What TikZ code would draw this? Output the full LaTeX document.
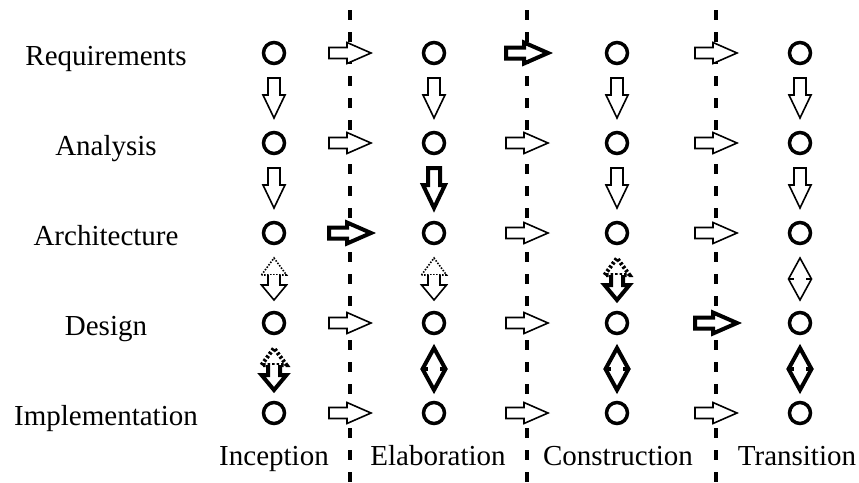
\documentclass[tikz,border=0pt]{standalone}
\usepackage{fontspec}
\setmainfont{Liberation Serif}
\usetikzlibrary{calc}

\tikzset{
  phase/.style={line width=3.5pt, dash pattern=on 10pt off 12pt},
  act/.style={circle, draw, line width=3.5pt, minimum size=21pt, inner sep=0pt},
  lbl/.style={font=\fontsize{29}{34}\selectfont, anchor=base},
  thin/.style={line width=1.6pt},
  bold/.style={line width=4pt},
  dots/.style={dash pattern=on 1.5pt off 1.5pt},
  bolddots/.style={dash pattern=on 2.5pt off 2pt},
  % block arrow pointing right
  rarr/.pic={\draw[fill=white, miter limit=20]
    (-21,-5.5) -- (-3,-5.5) -- (-3,-10.5) -- (21,0) -- (-3,10.5) -- (-3,5.5) -- (-21,5.5) -- cycle;},
  % block arrow pointing down
  darr/.pic={\draw[fill=white, miter limit=20]
    (-6,-20) -- (-6,-3) -- (-11,-3) -- (0,20) -- (11,-3) -- (6,-3) -- (6,-20) -- cycle;},
  % dotted head up over a solid arrow down
  uddbl/.pic={
    \draw[fill=white, dotsty] (-12.5,-3) -- (0,-20) -- (12.5,-3) -- cycle;
    \fill[white] (-6,-3) -- (-6,7) -- (-12.5,7) -- (0,22) -- (12.5,7) -- (6,7) -- (6,-3) -- cycle;
    \draw[miter limit=20] (-6,-3) -- (-6,7) -- (-12.5,7) -- (0,22) -- (12.5,7) -- (6,7) -- (6,-3);},
  % two heads back to back
  diam/.pic={
    \draw[fill=white, miter limit=20] (0,-20) -- (11.5,1) -- (0,22) -- (-11.5,1) -- cycle;
    \draw (-11.5,1) -- (-6,1) (6,1) -- (11.5,1);},
  dotsty/.style={dots},
}

\begin{document}
\begin{tikzpicture}[x=1pt, y=-1pt]
\useasboundingbox (0,0) rectangle (859,482);

% phase boundaries
\foreach \n/\x in {1/350, 2/527, 3/716} {
  \coordinate (t\n) at (\x,10);
  \coordinate (b\n) at (\x,482);
  \draw[phase] (t\n) -- (b\n);
}

% activities (rows) and iterations (columns)
\foreach \r/\y/\name in {1/53/Requirements, 2/143/Analysis, 3/233/Architecture,
                          4/323/Design, 5/413/Implementation} {
  \node[lbl] (l\r) at (106,\y+12) {\name};
  \foreach \c/\x in {1/274, 2/434, 3/617, 4/800}
    \node[act] (c\r\c) at (\x,\y) {};
}

% phase names
\node[lbl] (p1) at (274,465) {Inception};
\node[lbl] (p2) at (438,465) {Elaboration};
\node[lbl] (p3) at (618,465) {Construction};
\node[lbl] (p4) at (797,465) {Transition};

% flow from one iteration to the next
\foreach \r/\wa/\wb/\wc in {1/thin/bold/thin, 2/thin/thin/thin, 3/bold/thin/thin,
                            4/thin/thin/bold, 5/thin/thin/thin} {
  \pic[\wa] at (t1 |- c\r1) {rarr};
  \pic[\wb] at (t2 |- c\r2) {rarr};
  \pic[\wc] at (t3 |- c\r3) {rarr};
}

% flow between activities
\foreach \c/\w in {1/thin, 2/thin, 3/thin, 4/thin}
  \pic[\w] at ($(c1\c)!0.5!(c2\c)$) {darr};
\foreach \c/\w in {1/thin, 2/bold, 3/thin, 4/thin}
  \pic[\w] at ($(c2\c)!0.5!(c3\c)$) {darr};

\pic[thin] at ($(c31)!0.5!(c41)$) {uddbl};
\pic[thin] at ($(c32)!0.5!(c42)$) {uddbl};
\pic[bold, dotsty/.style={bolddots}] at ($(c33)!0.5!(c43)$) {uddbl};
\pic[thin] at ($(c34)!0.5!(c44)$) {diam};

\pic[bold, dotsty/.style={bolddots}] at ($(c41)!0.5!(c51)$) {uddbl};
\pic[bold] at ($(c42)!0.5!(c52)$) {diam};
\pic[bold] at ($(c43)!0.5!(c53)$) {diam};
\pic[bold] at ($(c44)!0.5!(c54)$) {diam};
\end{tikzpicture}
\end{document}
